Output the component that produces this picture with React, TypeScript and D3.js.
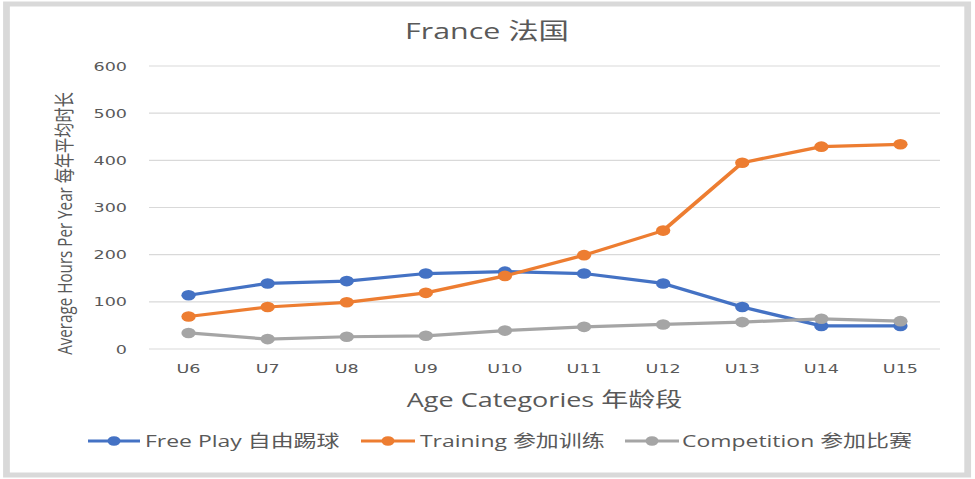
import React from "react";
import * as d3 from "d3";

const categories = ["U6", "U7", "U8", "U9", "U10", "U11", "U12", "U13", "U14", "U15"];
const freePlay = [114, 139, 144, 160, 164, 160, 139, 89, 49, 49];
const training = [69, 89, 99, 119, 155, 199, 251, 395, 429, 434];
const competition = [34, 21, 26, 28, 39, 47, 52, 57, 64, 59];
const yTicks = [0, 100, 200, 300, 400, 500, 600];
const seriesNames = ["Free Play 自由踢球", "Training 参加训练", "Competition 参加比赛"];
const seriesColors = ["#4472C4", "#ED7D31", "#A5A5A5"];
const title = "France 法国";
const xTitle = "Age Categories 年龄段";
const yTitle = "Average Hours Per Year 每年平均时长";

const WIDTH = 975;
const HEIGHT = 479;
const SX = 1.35; // horizontal stretch of the reference picture
const IW = WIDTH / SX;

const FONT = "'Open Sans','Noto Sans CJK SC',sans-serif";
const TICK_FONT = "'DejaVu Sans','Noto Sans CJK SC',sans-serif";

export default function App() {
  const series = [freePlay, training, competition];
  const x = d3.scaleBand<string>().domain(categories).range([149 / SX, 940 / SX]).padding(0);
  const y = d3.scaleLinear().domain([0, 600]).range([349, 66]);
  const cx = (c: string) => (x(c) as number) + x.bandwidth() / 2;
  const line = d3
    .line<number>()
    .x((_, i) => cx(categories[i]))
    .y((v) => y(v));

  const legendPos = [
    { x0: 88 / SX, x1: 140 / SX, tx: 145 / SX },
    { x0: 361 / SX, x1: 415 / SX, tx: 420 / SX },
    { x0: 625 / SX, x1: 679 / SX, tx: 682 / SX },
  ];
  const legendY = 441;

  return (
    <svg
      width={WIDTH}
      height={HEIGHT}
      viewBox={`0 0 ${IW} ${HEIGHT}`}
      preserveAspectRatio="none"
      style={{ position: "absolute", left: 0, top: 0, display: "block", background: "#fff" }}
    >
      <rect x={0} y={0} width={IW} height={HEIGHT} fill="#fff" />
      <rect x={4.8} y={4} width={712} height={471} fill="#fff" stroke="#d9d9d9" strokeWidth={5} />
      <text x={487 / SX} y={39} textAnchor="middle" fontFamily={FONT} fontSize={22.5} fill="#595959">
        {title}
      </text>
      {yTicks.map((t) => (
        <g key={t}>
          <line x1={x.range()[0]} x2={x.range()[1]} y1={y(t)} y2={y(t)} stroke="#d9d9d9" strokeWidth={1.2} />
          <text x={127 / SX} y={y(t)} dy="0.35em" textAnchor="end" fontFamily={TICK_FONT} fontSize={13} fill="#595959">
            {t}
          </text>
        </g>
      ))}
      {categories.map((c) => (
        <text key={c} x={cx(c)} y={373} textAnchor="middle" fontFamily={TICK_FONT} fontSize={13} fill="#595959">
          {c}
        </text>
      ))}
      <text x={(149 + 940) / 2 / SX} y={407} textAnchor="middle" fontFamily={FONT} fontSize={20} fill="#595959">
        {xTitle}
      </text>
      <text
        transform={`translate(${72 / SX},${(66 + 349) / 2 + 16}) rotate(-90)`}
        textAnchor="middle"
        fontFamily={FONT}
        fontSize={15.2}
        fill="#595959"
      >
        {yTitle}
      </text>
      {series.map((s, si) => (
        <g key={si}>
          <path d={line(s) as string} fill="none" stroke={seriesColors[si]} strokeWidth={3.2} strokeLinejoin="round" />
          {s.map((v, i) => (
            <circle key={i} cx={cx(categories[i])} cy={y(v)} r={5.3} fill={seriesColors[si]} />
          ))}
        </g>
      ))}
      {seriesNames.map((n, i) => (
        <g key={n}>
          <line x1={legendPos[i].x0} x2={legendPos[i].x1} y1={legendY} y2={legendY} stroke={seriesColors[i]} strokeWidth={3.2} />
          <circle cx={(legendPos[i].x0 + legendPos[i].x1) / 2} cy={legendY} r={4.8} fill={seriesColors[i]} />
          <text x={legendPos[i].tx} y={legendY} dy="0.35em" fontFamily={FONT} fontSize={17} fill="#595959">
            {n}
          </text>
        </g>
      ))}
    </svg>
  );
}
